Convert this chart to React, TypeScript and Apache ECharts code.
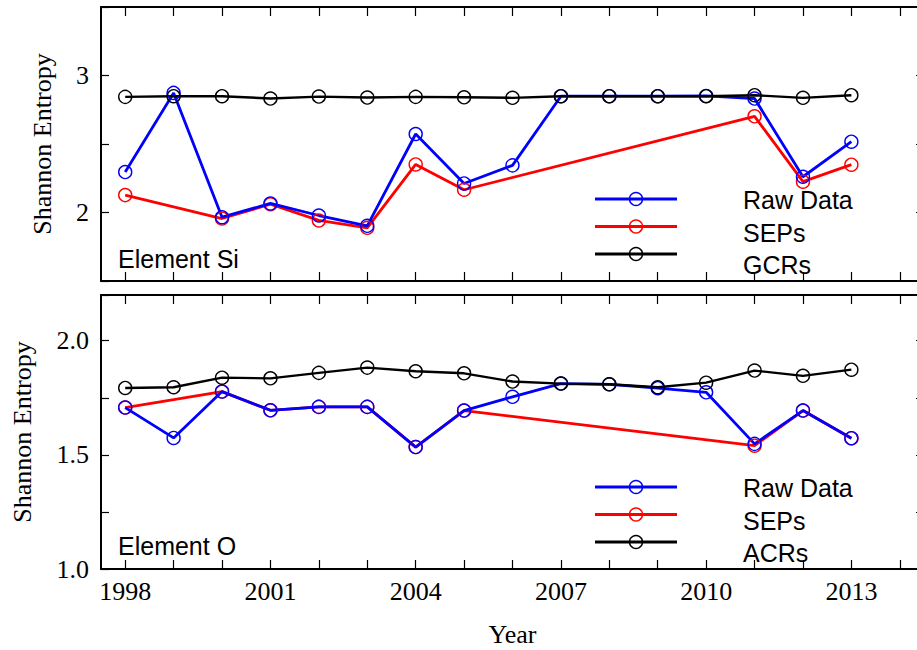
import React, { useEffect, useRef } from "react";
import * as echarts from "echarts";

const years = ["1998", "1999", "2000", "2001", "2002", "2003", "2004", "2005", "2006", "2007", "2008", "2009", "2010", "2011", "2012", "2013", "2014"];

const siRaw = [2.295, 2.873, 1.966, 2.066, 1.978, 1.903, 2.573, 2.212, 2.344, 2.849, 2.849, 2.849, 2.851, 2.832, 2.261, 2.517];
const siSep = [2.127, null, 1.956, 2.06, 1.942, 1.888, 2.351, 2.166, null, null, null, null, null, 2.702, 2.225, 2.349];
const siGcr = [2.844, 2.849, 2.849, 2.832, 2.846, 2.839, 2.844, 2.841, 2.837, 2.849, 2.849, 2.849, 2.849, 2.856, 2.837, 2.856];

const oRaw = [1.707, 1.574, 1.777, 1.695, 1.71, 1.71, 1.534, 1.694, 1.754, 1.812, 1.809, 1.792, 1.774, 1.548, 1.694, 1.573];
const oSep = [1.707, null, 1.777, 1.695, 1.71, 1.71, 1.534, 1.694, null, null, null, null, null, 1.54, 1.694, 1.573];
const oAcr = [1.793, 1.796, 1.838, 1.835, 1.859, 1.882, 1.866, 1.857, 1.821, 1.812, 1.809, 1.796, 1.816, 1.869, 1.846, 1.873];

const legendTop = ["Raw Data", "SEPs", "GCRs"];
const legendBottom = ["Raw Data", "SEPs", "ACRs"];
const colors = ["#0000ff", "#ff0000", "#000000"];

const SERIF = "Liberation Serif";
const SANS = "Liberation Sans";

function xAxis(grid: number, position: "top" | "bottom", labels: boolean, name?: string) {
  return {
    type: "category",
    gridIndex: grid,
    position,
    data: years,
    boundaryGap: true,
    name: name,
    nameLocation: "middle",
    nameGap: 52,
    nameTextStyle: { fontFamily: SERIF, fontSize: 26, color: "#000" },
    axisLine: { show: true, onZero: false, lineStyle: { color: "#000", width: 2 } },
    axisTick: { show: true, inside: true, alignWithLabel: true, interval: 0, length: 9, lineStyle: { color: "#000", width: 1.2 } },
    axisLabel: { show: labels, interval: 2, margin: 9, fontFamily: SERIF, fontSize: 26, color: "#000" },
    splitLine: { show: false },
  };
}

function yAxis(grid: number, position: "left" | "right", min: number, max: number, interval: number, labels: boolean, fmt: (v: number) => string, nameGap: number) {
  return {
    type: "value",
    gridIndex: grid,
    position,
    min,
    max,
    interval,
    name: labels ? "Shannon Entropy" : "",
    nameLocation: "middle",
    nameGap,
    nameTextStyle: { fontFamily: SERIF, fontSize: 26, color: "#000" },
    axisLine: { show: position === "left", onZero: false, lineStyle: { color: "#000", width: 2 } },
    axisTick: { show: true, inside: true, length: 8, lineStyle: { color: "#000", width: 1.2 } },
    axisLabel: { show: labels, margin: 12, fontFamily: SERIF, fontSize: 26, color: "#000", formatter: fmt },
    splitLine: { show: false },
  };
}

function line(name: string, data: (number | null)[], color: string, xi: number, yi: number, width: number) {
  return {
    type: "line",
    name,
    data,
    xAxisIndex: xi,
    yAxisIndex: yi,
    connectNulls: true,
    symbol: "circle",
    symbolSize: 13,
    showSymbol: true,
    itemStyle: { color: "rgba(0,0,0,0)", borderColor: color, borderWidth: 1.4 },
    lineStyle: { color, width },
    emphasis: { disabled: true },
    z: 3,
  };
}

function legendGraphic(lineY: number, labels: string[]) {
  const els: any[] = [];
  labels.forEach((lab, i) => {
    const ly = lineY + i * 27.5;
    const ty = lineY + 1 + i * 32.5;
    els.push({ type: "line", shape: { x1: 595, y1: ly, x2: 677, y2: ly }, style: { stroke: colors[i], lineWidth: 2.8 }, z: 10 });
    els.push({ type: "circle", shape: { cx: 636, cy: ly, r: 6.5 }, style: { fill: "none", stroke: colors[i], lineWidth: 1.4 }, z: 10 });
    els.push({ type: "text", x: 743, y: ty, style: { text: lab, fontFamily: SANS, fontSize: 25, fill: "#000", textVerticalAlign: "middle", textAlign: "left" }, z: 10 });
  });
  return els;
}

export default function App() {
  const ref = useRef<HTMLDivElement>(null);
  useEffect(() => {
    if (!ref.current) return;
    const chart = echarts.init(ref.current, undefined, { renderer: "svg" });
    const intFmt = (v: number) => (Math.abs(v - Math.round(v)) < 1e-6 ? String(Math.round(v)) : "");
    const halfFmt = (v: number) => (Math.abs(v * 2 - Math.round(v * 2)) < 1e-6 ? v.toFixed(1) : "");
    const none = () => "";
    chart.setOption({
      animation: false,
      backgroundColor: "#fff",
      grid: [
        { left: 101, width: 823, top: 7, height: 274, containLabel: false, outerBoundsMode: "none" },
        { left: 101, width: 823, top: 295, height: 274, containLabel: false, outerBoundsMode: "none" },
      ],
      xAxis: [
        xAxis(0, "bottom", false),
        xAxis(0, "top", false),
        xAxis(1, "bottom", true, "Year"),
        xAxis(1, "top", false),
      ],
      yAxis: [
        yAxis(0, "left", 1.5, 3.5, 0.5, true, intFmt, 46),
        yAxis(0, "right", 1.5, 3.5, 0.5, false, none, 0),
        yAxis(1, "left", 1, 2.2, 0.25, true, halfFmt, 66),
        yAxis(1, "right", 1, 2.2, 0.25, false, none, 0),
      ],
      series: [
        line("SEPs", siSep, colors[1], 0, 0, 2.8),
        line("Raw Data", siRaw, colors[0], 0, 0, 2.8),
        line("GCRs", siGcr, colors[2], 0, 0, 2.4),
        line("SEPs", oSep, colors[1], 2, 2, 2.8),
        line("Raw Data", oRaw, colors[0], 2, 2, 2.8),
        line("ACRs", oAcr, colors[2], 2, 2, 2.4),
      ],
      graphic: [
        { type: "text", x: 118, y: 259, style: { text: "Element Si", fontFamily: SANS, fontSize: 25, fill: "#000", textVerticalAlign: "middle" }, z: 10 },
        { type: "text", x: 118, y: 546, style: { text: "Element O", fontFamily: SANS, fontSize: 25, fill: "#000", textVerticalAlign: "middle" }, z: 10 },
        ...legendGraphic(199, legendTop),
        ...legendGraphic(487, legendBottom),
      ],
    });
    return () => chart.dispose();
  }, []);
  return <div ref={ref} style={{ position: "fixed", left: 0, top: 0, width: 917, height: 650 }} />;
}
